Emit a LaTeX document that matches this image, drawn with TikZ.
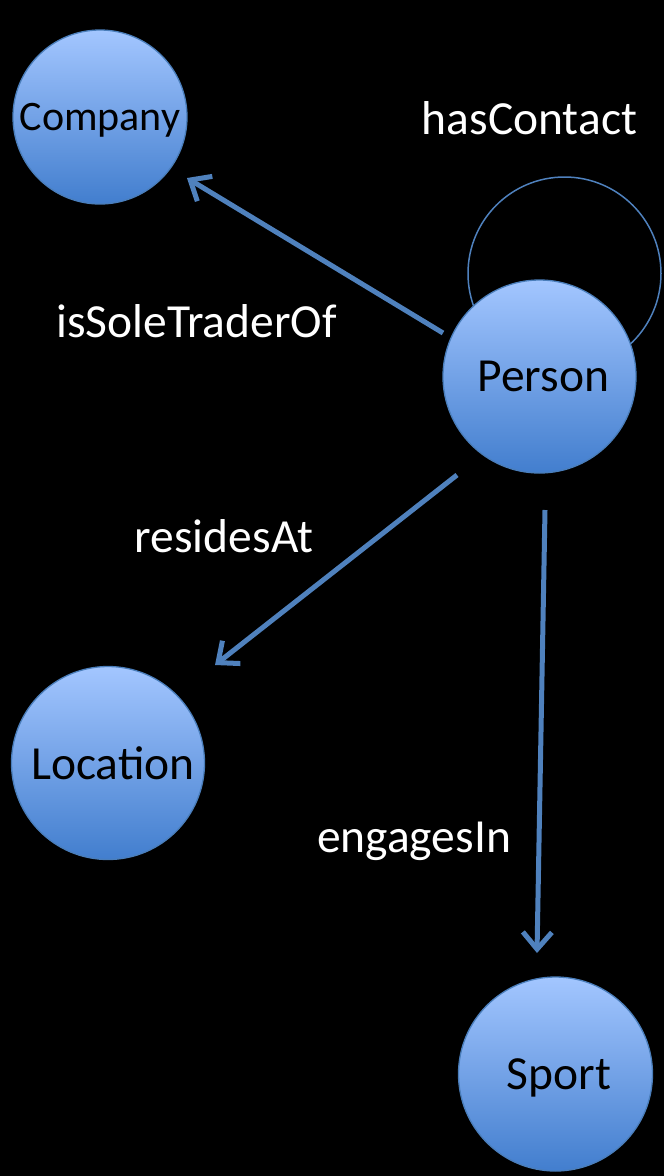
\documentclass[tikz,border=0pt]{standalone}
\usepackage{fontspec}
\setmainfont{Carlito}
\usetikzlibrary{arrows.meta,calc}
\definecolor{edgeblue}{RGB}{79,129,189}
\definecolor{rimblue}{RGB}{74,126,187}
\definecolor{topblue}{RGB}{163,198,255}
\definecolor{botblue}{RGB}{66,126,206}
\tikzset{
  concept/.style={circle, inner sep=0pt, draw=rimblue, line width=1.3pt,
    top color=topblue, bottom color=botblue, text=black, text depth=0pt,
    font=\fontsize{47.5}{57}\selectfont},
  rel/.style={text=white, anchor=base, inner sep=0pt, font=\fontsize{47.5}{57}\selectfont},
  arr/.style={draw=edgeblue, line width=5pt,
    -{Straight Barb[length=17pt,width=29pt,line width=5pt]}},
  loopline/.style={draw=edgeblue, line width=1.5pt}
}
\begin{document}
\begin{tikzpicture}[x=1pt,y=-1pt]
\fill[black] (0,0) rectangle (664,1176);
\useasboundingbox (0,0) rectangle (664,1176);
% self loop (behind Person)
\coordinate (loopc) at (564.5,273.5);
\draw[loopline] (loopc) circle[radius=96.5];
% concepts
\node[concept, minimum size=174pt, font=\fontsize{42}{50}\selectfont] (company) at (100,117) {Company};
\node[concept, minimum size=193pt] (person) at (539.5,376.5) {\hspace*{8pt}Person};
\node[concept, minimum size=193pt] (location) at (108,763) {\hspace*{10pt}Location};
\node[concept, minimum size=194pt] (sport) at (555.5,1074) {\hspace*{7pt}Sport};
% relations
\draw[arr] ($(person)+(-96.5,-43.5)$) -- ($(company)+(87,61)$);
\draw[arr] ($(person)+(-82.5,98.5)$) -- ($(location)+(107,-98)$);
\draw[arr] ($(person)+(5.5,133.5)$) -- ($(sport)+(-18.5,-121)$);
% labels
\node[rel] (lhas) at (529.5,134) {hasContact};
\node[rel] (lsole) at (196.5,337) {isSoleTraderOf};
\node[rel] (lres) at (224,552) {residesAt};
\node[rel] (leng) at (414,852) {engagesIn};
\end{tikzpicture}
\end{document}
